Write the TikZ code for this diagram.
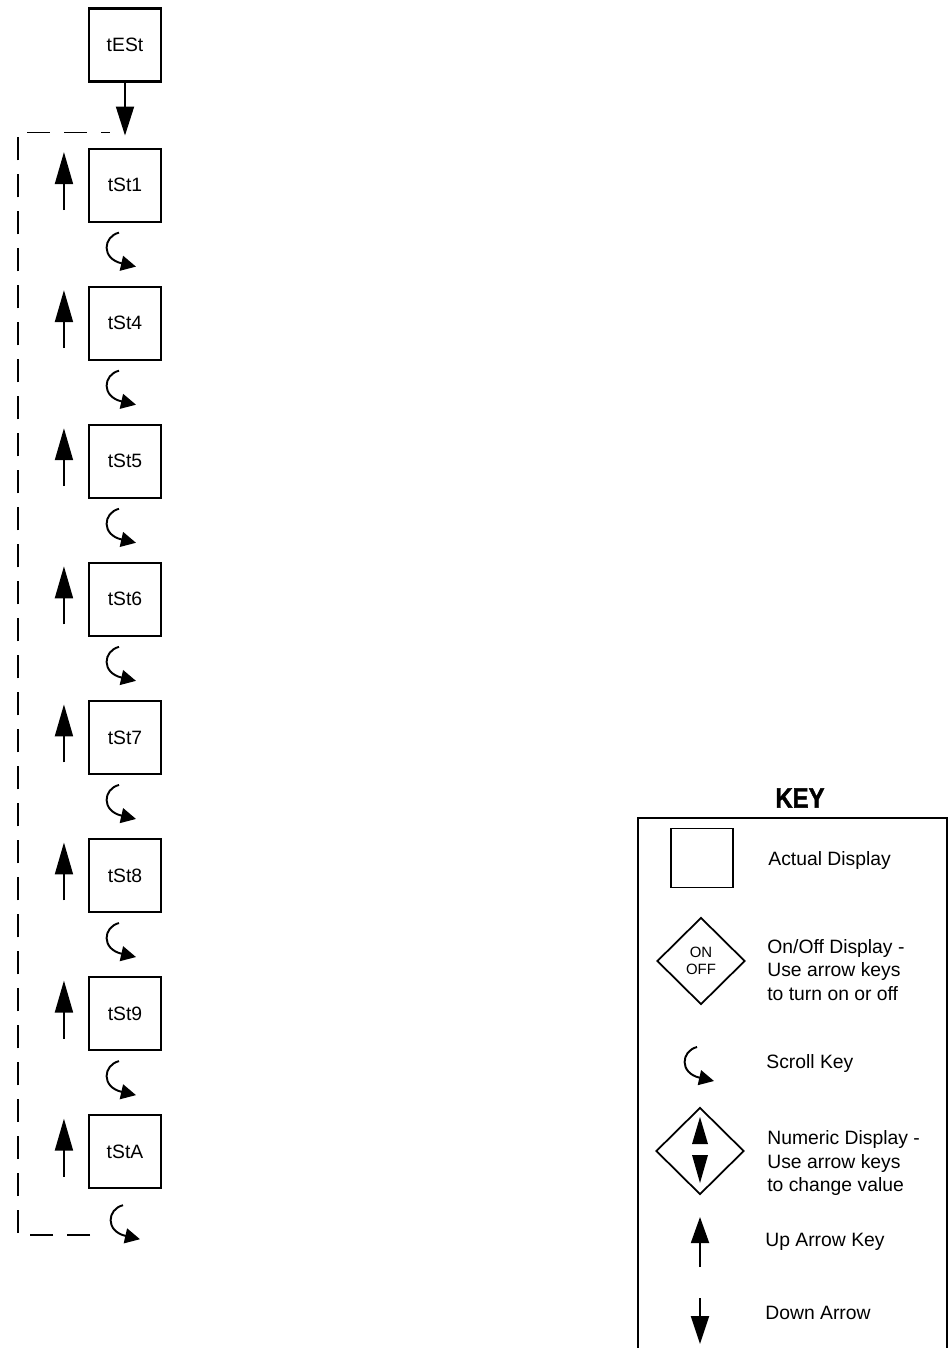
\documentclass[tikz,border=0pt]{standalone}
\usepackage{fontspec}
\setmainfont{Liberation Sans}
\newfontfamily\keyfont[FakeBold=1.5,FakeStretch=0.85]{Liberation Sans}
\usepackage{tikz}
\usetikzlibrary{arrows.meta,calc,positioning,shapes.geometric}

\tikzset{
  disp/.style={draw,line width=1.2pt,minimum width=1.44cm,minimum height=1.46cm,inner sep=0pt,font=\fontsize{11}{12}\selectfont},
  keyarrow/.style={line width=1.1pt,-{Triangle[length=#1,width=0.36cm]}},
  keyarrow/.default=0.64cm,
  looppath/.style={line width=1pt,dash pattern=on 0.46cm off 0.28cm},
  keytext/.style={anchor=west,align=left,inner sep=0pt,font=\fontsize{11}{13.6}\selectfont},
  keydiam/.style={diamond,draw,line width=1pt,minimum width=1.76cm,minimum height=1.74cm,inner sep=0pt},
  scrollkey/.pic={\draw[line width=1.1pt,-{Triangle[length=0.3cm,width=0.3cm]}] (0,0) .. controls (-16,-4) and (-18,-26) .. (17,-34);}
}

\begin{document}
\begin{tikzpicture}[x=0.02cm,y=0.02cm]
  \useasboundingbox (0,0) rectangle (951,-1348);
  % displays
  \node[disp] (test) at (125,-45) {tESt};
  \node[disp,below=1.3cm of test] (t1) {tSt1};
  \foreach \n [remember=\n as \p (initially 1)] in {4,5,6,7,8,9,A}
    \node[disp,below=1.26cm of t\p] (t\n) {tSt\n};
  \draw[keyarrow=0.58cm,shorten >=0.24cm] (test) -- (t1);
  % keys beside the displays
  \foreach \n in {1,4,5,6,7,8,9,A}{
    \draw[keyarrow] ([shift={(-24,-25)}]t\n.west) -- ([shift={(-24,33)}]t\n.west);}
  \foreach \n in {1,4,5,6,7,8,9}
    \pic at ([shift={(-6,-10)}]t\n.south) {scrollkey};
  \pic at ([shift={(-2,-16)}]tA.south) {scrollkey};
  % back to the top
  \coordinate (loopout) at ([shift={(-35,-46)}]tA.south);
  \coordinate (loopin) at ([shift={(-15,15)}]t1.north);
  \draw[looppath] (loopout) -| ([shift={(-92,0)}]loopin) -- (loopin);
  % key
  \node[font=\fontsize{16}{16}\keyfont\bfseries] (keyhead) at (800,-798) {KEY};
  \draw[line width=0.6pt] (638,-1348) |- (947,-818) -- (947,-1348);
  \node[draw,line width=1pt,minimum width=1.24cm,minimum height=1.18cm] (kdisp) at (702,-858) {};
  \node[keytext] (tdisp) at (768,-860) {Actual Display};
  \node[keydiam,align=center,font=\fontsize{8.5}{9.8}\selectfont] (konoff) at (701,-961) {ON\\OFF};
  \node[keytext] (tonoff) at (767,-970) {On/Off Display -\\Use arrow keys\\to turn on or off};
  \pic at (697,-1047) {scrollkey};
  \node[keytext] (tscroll) at (766,-1063) {Scroll Key};
  \node[keydiam] (knum) at (700,-1151) {};
  \fill ([shift={(-8,7)}]knum.center) -- ([shift={(0,34)}]knum.center) -- ([shift={(8,7)}]knum.center) -- cycle;
  \fill ([shift={(-8,-4)}]knum.center) -- ([shift={(0,-32)}]knum.center) -- ([shift={(8,-4)}]knum.center) -- cycle;
  \node[keytext] (tnum) at (767,-1163) {Numeric Display -\\Use arrow keys\\to change value};
  \draw[keyarrow=0.52cm] (700,-1267) -- (700,-1217);
  \node[keytext] (tup) at (765,-1242) {Up Arrow Key};
  \draw[keyarrow=0.56cm] (700,-1298) -- (700,-1344);
  \node[keytext] (tdown) at (765,-1313) {Down Arrow};
\end{tikzpicture}
\end{document}
